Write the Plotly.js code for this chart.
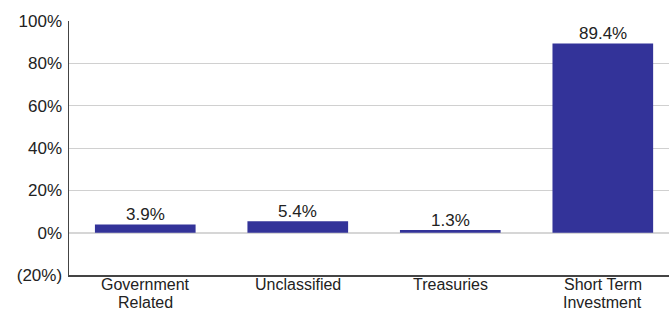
<!DOCTYPE html>
<html><head><meta charset="utf-8">
<script src="https://cdn.plot.ly/plotly-3.0.1.min.js"></script>
<style>html,body{margin:0;padding:0;background:#fff}#chart{width:669px;height:312px}</style>
</head><body><div id="chart"></div>
<script>
const categories = ["Government Related", "Unclassified", "Treasuries", "Short Term Investment"];
const categoryLine1 = ["Government", "Unclassified", "Treasuries", "Short Term"];
const categoryLine2 = ["Related", "", "", "Investment"];
const values = [3.9, 5.4, 1.3, 89.4];
const valueLabels = ["3.9%", "5.4%", "1.3%", "89.4%"];
const yTickVals = [-20, 0, 20, 40, 60, 80, 100];
const yTickText = ["(20%)", "0%", "20%", "40%", "60%", "80%", "100%"];

const FONT = "Liberation Sans, Arial, sans-serif";
const TXT = {family: FONT, size: 17, color: "#222"};
const CAT = {family: FONT, size: 16, color: "#222"};

const trace = {
  type: "bar",
  x: categories,
  y: values,
  marker: {color: "#333399"},
  width: 0.66,
  hoverinfo: "none"
};

const annotations = [];
categories.forEach((c, i) => {
  annotations.push({x: c, xref: "x", y: values[i], yref: "y", yanchor: "bottom", xanchor: "center",
    yshift: -2, showarrow: false, text: valueLabels[i], font: TXT});
  annotations.push({x: c, xref: "x", y: 0, yref: "paper", yanchor: "top", xanchor: "center",
    yshift: 0, borderpad: 0, showarrow: false, text: categoryLine1[i], font: CAT});
  if (categoryLine2[i]) {
    annotations.push({x: c, xref: "x", y: 0, yref: "paper", yanchor: "top", xanchor: "center",
      yshift: -18, borderpad: 0, showarrow: false, text: categoryLine2[i], font: CAT});
  }
});

const layout = {
  width: 669, height: 312,
  margin: {l: 69, r: 0, t: 21, b: 37},
  paper_bgcolor: "#fff", plot_bgcolor: "#fff",
  showlegend: false,
  font: TXT,
  annotations: annotations,
  xaxis: {
    type: "category",
    range: [-0.5, 3.434],
    showgrid: false,
    showline: true, linecolor: "#444", linewidth: 1.5,
    ticks: "", showticklabels: false,
    fixedrange: true
  },
  yaxis: {
    range: [-20, 100],
    tickvals: yTickVals, ticktext: yTickText,
    showgrid: true, gridcolor: "#d0d0d0", gridwidth: 1,
    zeroline: true, zerolinecolor: "#d6d6d6", zerolinewidth: 2,
    showline: true, linecolor: "#444", linewidth: 1.5,
    ticks: "", ticklabelstandoff: 2,
    tickfont: TXT,
    fixedrange: true
  }
};

Plotly.newPlot("chart", [trace], layout, {displayModeBar: false, staticPlot: true});
</script></body></html>
